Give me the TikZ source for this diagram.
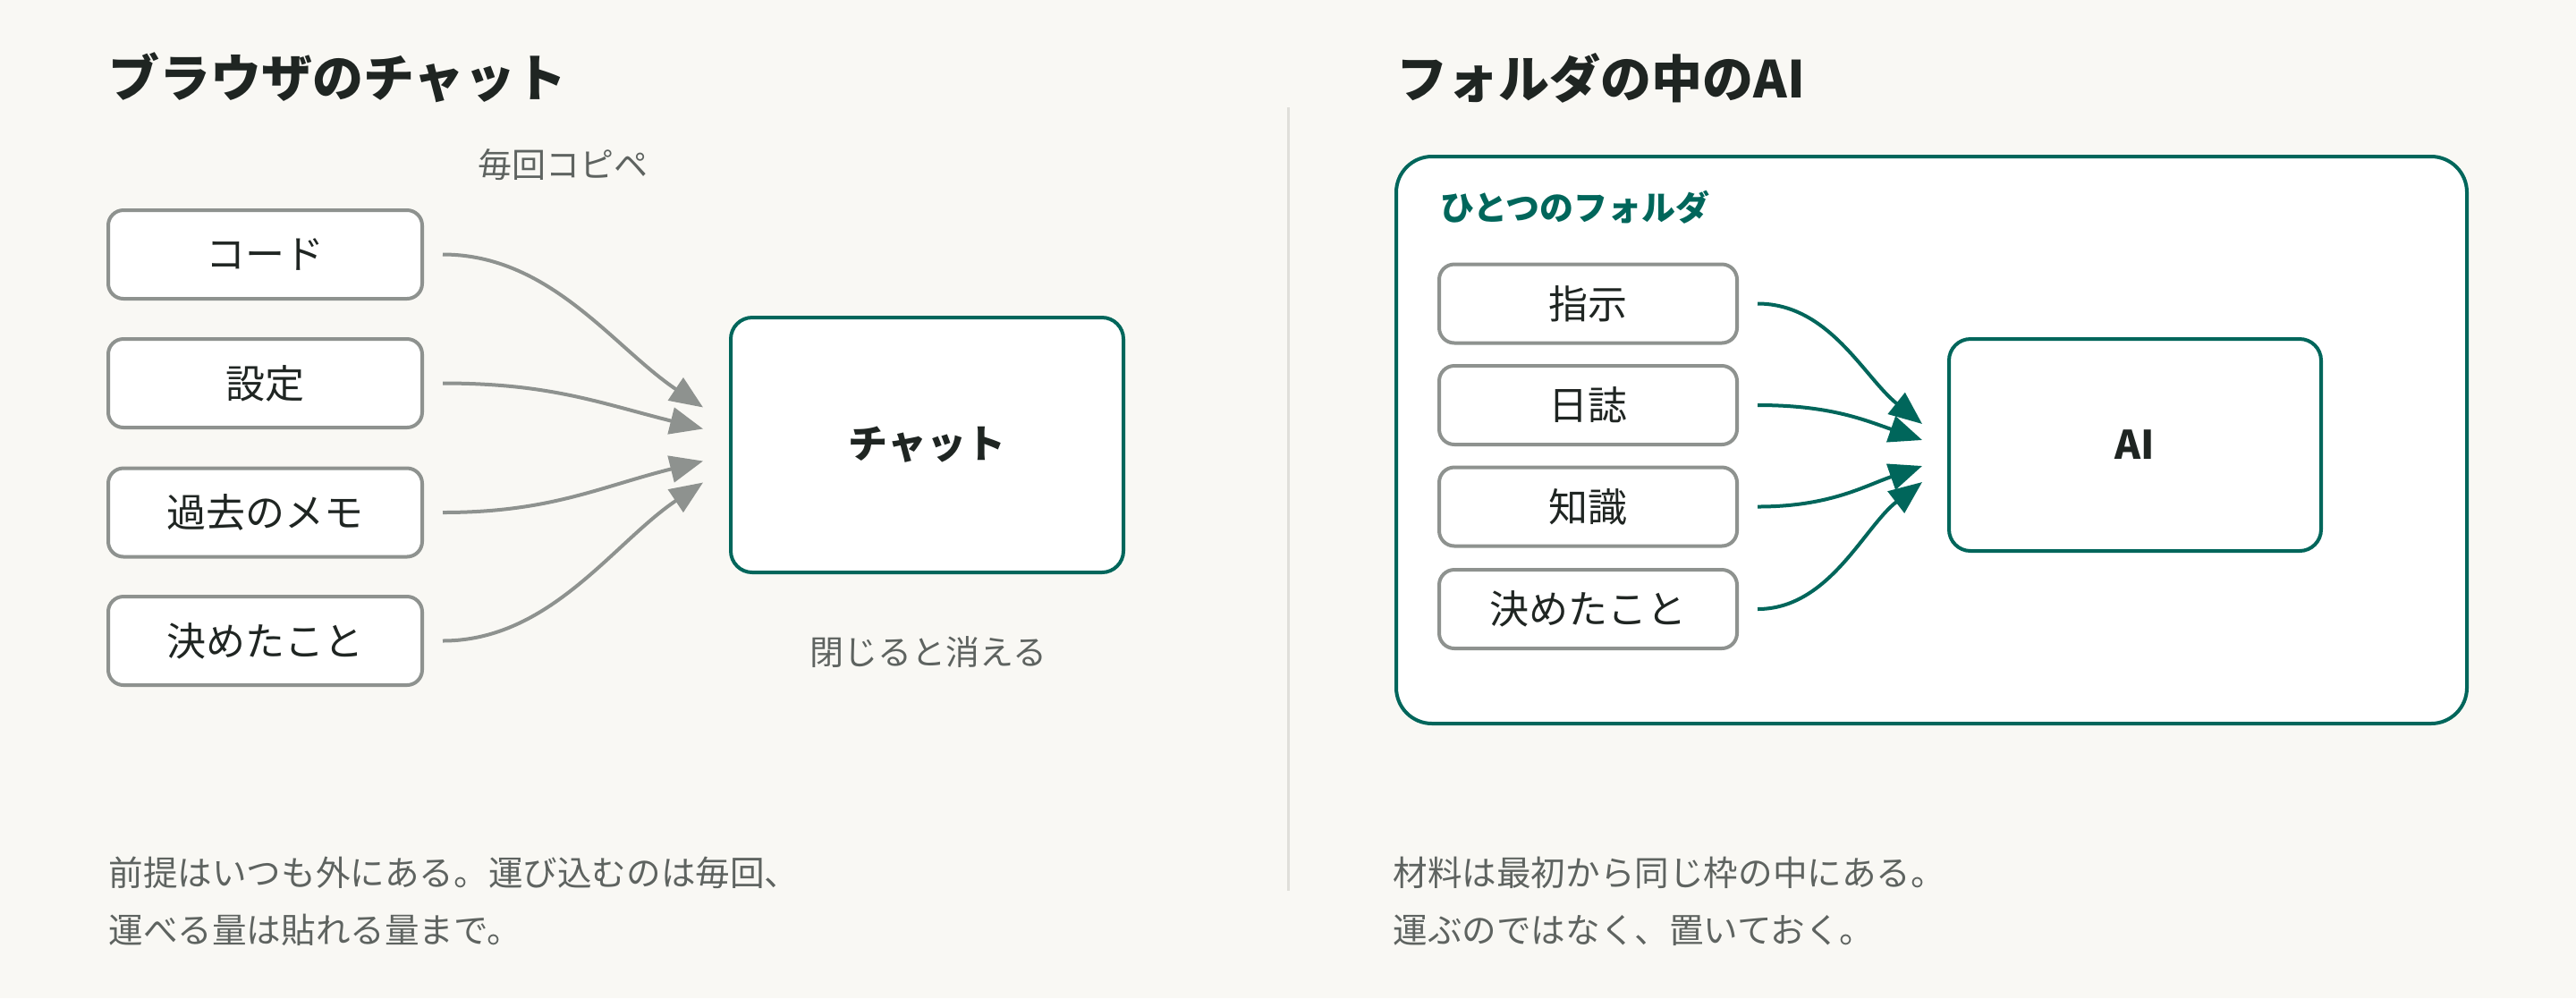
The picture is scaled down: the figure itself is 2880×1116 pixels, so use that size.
\documentclass[tikz,border=0pt]{standalone}
\usepackage{fontspec}
\setmainfont{Noto Sans CJK JP}
\usetikzlibrary{arrows.meta,calc}
\definecolor{bg}{HTML}{F9F8F4}
\definecolor{ink}{HTML}{1F2522}
\definecolor{muted}{HTML}{5E6360}
\definecolor{greyc}{HTML}{8E928F}
\definecolor{teal}{HTML}{00665B}
\definecolor{divc}{HTML}{E0DFDA}
\begin{document}
\begin{tikzpicture}[x=0.5pt,y=-0.5pt,
  srcbox/.style={draw=greyc, line width=2pt, fill=white, rounded corners=8.5pt,
    inner sep=0pt, text=ink, font=\fontsize{22}{26}\selectfont},
  tgtbox/.style={draw=teal, line width=2pt, fill=white, rounded corners=12pt,
    inner sep=0pt, text=ink, font=\fontsize{22}{26}\selectfont\bfseries},
  folderbox/.style={draw=teal, line width=2pt, fill=white, rounded corners=20pt,
    inner sep=0pt, minimum width=598.5pt, minimum height=317pt},
  titletext/.style={anchor=west, inner sep=0pt, text=ink, font=\fontsize{28.5}{32}\selectfont\bfseries},
  notetext/.style={inner sep=0pt, text=muted, font=\fontsize{19}{24}\selectfont},
  bodytext/.style={anchor=west, inner sep=0pt, align=left, text=muted, font=\fontsize{19.3}{32}\selectfont},
  tealtext/.style={anchor=west, inner sep=0pt, text=teal, font=\fontsize{19}{24}\selectfont\bfseries},
  greyarrow/.style={draw=greyc, line width=2pt, -{Triangle[length=18.5pt,width=15pt]}},
  tealarrow/.style={draw=teal, line width=2pt, -{Triangle[length=18.5pt,width=15pt]}},
  divline/.style={draw=divc, line width=1.5pt}
]
\useasboundingbox (0,0) rectangle (2880,1116);
\fill[bg] (0,0) rectangle (2880,1116);

% divider
\coordinate (dtop) at (1440,120);
\coordinate (dbot) at (1440,996);
\draw[divline] (dtop) -- (dbot);

% ---------- left panel ----------
\node[titletext] (ltitle) at (121,87) {ブラウザのチャット};
\node[notetext] (copy) at (629,184) {毎回コピペ};

\begin{scope}[every node/.append style={minimum width=175.5pt, minimum height=49.5pt}]
\node[srcbox] (b1) at (296.5,284.5) {コード};
\node[srcbox] (b2) at (296.5,428.5) {設定};
\node[srcbox] (b3) at (296.5,573) {過去のメモ};
\node[srcbox] (b4) at (296.5,716.5) {決めたこと};
\end{scope}

\node[tgtbox, minimum width=219.5pt, minimum height=142.5pt] (chat) at (1036.5,497.5) {チャット};
\node[notetext] (vanish) at (1038,729) {閉じると消える};

\coordinate (ls1) at ($(b1.east)+(21,0)$);
\coordinate (ls2) at ($(b2.east)+(21,0)$);
\coordinate (ls3) at ($(b3.east)+(21,0)$);
\coordinate (ls4) at ($(b4.east)+(21,0)$);
\coordinate (lt1) at ($(chat.west)+(-29,-42)$);
\coordinate (lt2) at ($(chat.west)+(-29,-18)$);
\coordinate (lt3) at ($(chat.west)+(-29,18)$);
\coordinate (lt4) at ($(chat.west)+(-29,42)$);
\draw[greyarrow] (ls1) .. controls +(120,0) and +(-100,-67) .. (lt1);
\draw[greyarrow] (ls2) .. controls +(120,0) and +(-116,-29) .. (lt2);
\draw[greyarrow] (ls3) .. controls +(120,0) and +(-116,29) .. (lt3);
\draw[greyarrow] (ls4) .. controls +(120,0) and +(-100,67) .. (lt4);

\node[bodytext] (lnote) at (121,1008) {前提はいつも外にある。運び込むのは毎回、\\運べる量は貼れる量まで。};

% ---------- right panel ----------
\node[titletext] (rtitle) at (1561,87) {フォルダの中のAI};
\node[folderbox] (folder) at (2159.5,492) {};
\node[tealtext] (flabel) at (1610,232) {ひとつのフォルダ};

\begin{scope}[every node/.append style={minimum width=166.5pt, minimum height=44pt}]
\node[srcbox] (r1) at (1775.5,339.5) {指示};
\node[srcbox] (r2) at (1775.5,453) {日誌};
\node[srcbox] (r3) at (1775.5,566.5) {知識};
\node[srcbox] (r4) at (1775.5,681) {決めたこと};
\end{scope}

\node[tgtbox, minimum width=208pt, minimum height=118.5pt] (ai) at (2387,497.5) {AI};

\coordinate (rs1) at ($(r1.east)+(21,0)$);
\coordinate (rs2) at ($(r2.east)+(21,0)$);
\coordinate (rs3) at ($(r3.east)+(21,0)$);
\coordinate (rs4) at ($(r4.east)+(21,0)$);
\coordinate (rt1) at ($(ai.west)+(-28,-23.5)$);
\coordinate (rt2) at ($(ai.west)+(-28,-5.5)$);
\coordinate (rt3) at ($(ai.west)+(-28,23.5)$);
\coordinate (rt4) at ($(ai.west)+(-28,41.5)$);
\draw[tealarrow] (rs1) .. controls +(80,0) and +(-65,-52) .. (rt1);
\draw[tealarrow] (rs2) .. controls +(80,0) and +(-66,-23) .. (rt2);
\draw[tealarrow] (rs3) .. controls +(80,0) and +(-66,23) .. (rt3);
\draw[tealarrow] (rs4) .. controls +(80,0) and +(-65,50) .. (rt4);

\node[bodytext] (rnote) at (1557,1008) {材料は最初から同じ枠の中にある。\\運ぶのではなく、置いておく。};
\end{tikzpicture}
\end{document}
